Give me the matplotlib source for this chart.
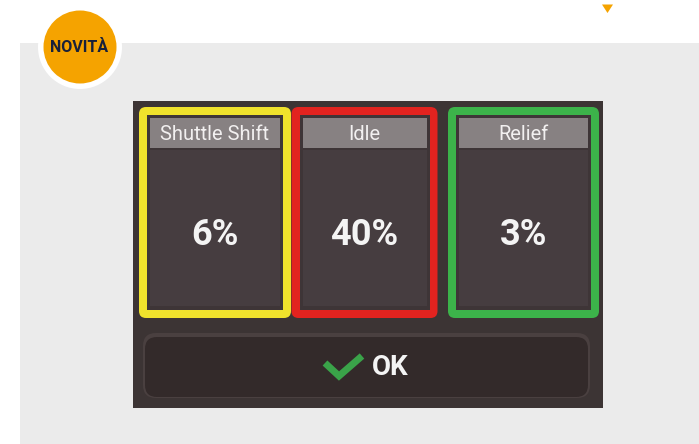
import matplotlib
matplotlib.use("Agg")
import matplotlib.pyplot as plt
from matplotlib.patches import FancyBboxPatch, Rectangle, Circle, Polygon

# ---- data ----
categories = ["Shuttle Shift", "Idle", "Relief"]
values = [6, 40, 3]
border_colors = ["#f0e22c", "#e2231f", "#3cb34a"]
badge_text = "NOVITÀ"
button_text = "OK"

W, H = 699, 444
fig = plt.figure(figsize=(W / 100, H / 100), dpi=100)
ax = fig.add_axes([0, 0, 1, 1])
ax.set_xlim(0, W)
ax.set_ylim(H, 0)
ax.axis("off")
fig.patch.set_facecolor("white")

FONT = ["Roboto", "DejaVu Sans"]

# gray page panel
ax.add_patch(Rectangle((20, 43), W - 20, H - 43, facecolor="#ebebeb", edgecolor="none", zorder=1))

# small orange triangle marker
ax.add_patch(Polygon([[602, 4.5], [613, 4.5], [607.5, 13]], closed=True, facecolor="#f5a300",
                     edgecolor="none", zorder=2))

# badge
ax.add_patch(Circle((80, 47), 42, facecolor="white", edgecolor="none", zorder=3))
ax.add_patch(Circle((80, 47), 36.5, facecolor="#f5a300", edgecolor="none", zorder=4))
ax.text(79.5, 48, badge_text, ha="center", va="center", fontsize=11.5, fontweight="bold",
        color="#18213a", family=FONT, zorder=5)

# dark screen
ax.add_patch(Rectangle((133, 101), 470, 307, facecolor="#3c3434", edgecolor="none", zorder=2))

# category boxes
box_w = 152
gap = 2.5
x0 = 139
for i, (cat, val, col) in enumerate(zip(categories, values, border_colors)):
    bx = x0 + i * (box_w + gap) - (2 if i == 1 else 0)
    bw = box_w - (6 if i == 1 else 0) - (1 if i == 2 else 0)
    by, bh = 107, 211
    ax.add_patch(FancyBboxPatch((bx, by), bw, bh, boxstyle="round,pad=0,rounding_size=7",
                                facecolor=col, edgecolor="none", zorder=3))
    ax.add_patch(Rectangle((bx + 8, by + 8), bw - 16, bh - 16, facecolor="#3e3537",
                           edgecolor="none", zorder=4))
    ax.add_patch(Rectangle((bx + 11, by + 11), bw - 22, 30, facecolor="#878182",
                           edgecolor="none", zorder=5))
    ax.add_patch(Rectangle((bx + 11, by + 43), bw - 22, bh - 55, facecolor="#463d40",
                           edgecolor="none", zorder=5))
    ax.text(bx + bw / 2, by + 27, cat, ha="center", va="center", fontsize=14.5,
            color="#f2f0f0", family=FONT, zorder=6)
    ax.text(bx + bw / 2, by + 128, f"{val}%", ha="center", va="center", fontsize=26,
            fontweight="bold", color="#f4f4f4", family=FONT, zorder=6)

# OK button
ax.add_patch(FancyBboxPatch((143, 333), 447, 65, boxstyle="round,pad=0,rounding_size=13",
                            facecolor="#4a4040", edgecolor="none", zorder=3))
ax.add_patch(FancyBboxPatch((145, 337), 443, 60, boxstyle="round,pad=0,rounding_size=12",
                            facecolor="#332a2a", edgecolor="none", zorder=4))
ax.plot([325, 339, 362], [363, 376, 356], color="#3aa349", lw=5, solid_capstyle="butt",
        solid_joinstyle="miter", zorder=5)
ax.text(390, 367, button_text, ha="center", va="center", fontsize=20, fontweight="bold",
        color="#f4f4f4", family=FONT, zorder=6)

fig.savefig("out.png", dpi=100)
